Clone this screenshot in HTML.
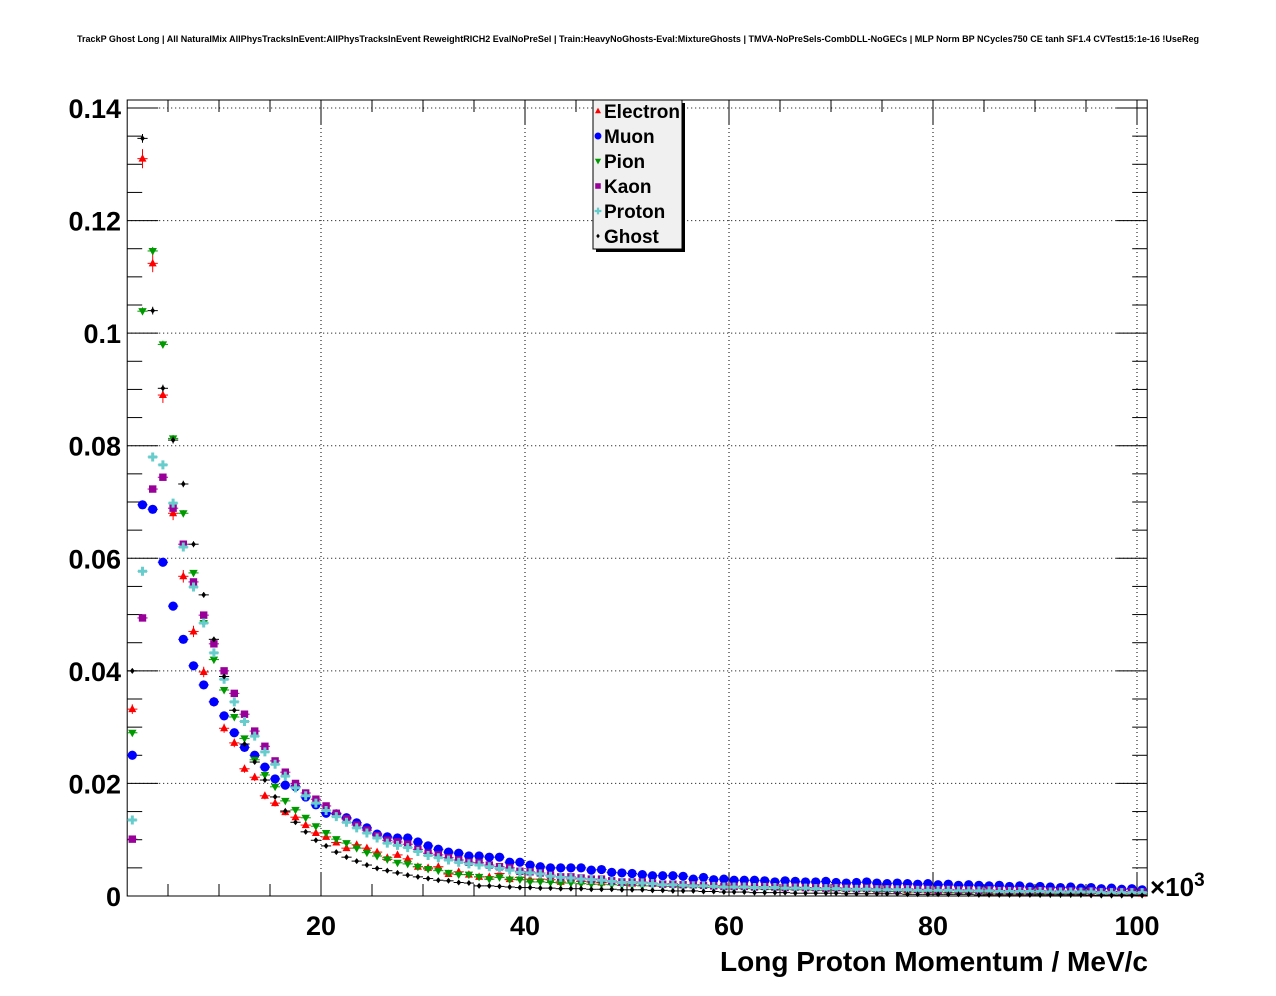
<!DOCTYPE html>
<html><head><meta charset="utf-8"><style>
html,body{margin:0;padding:0;background:#fff;}
svg{display:block;font-family:"Liberation Sans",Arial,sans-serif;}
</style></head><body>
<svg id="chart" width="1276" height="996" viewBox="0 0 1276 996">
<text x="638" y="42" text-anchor="middle" font-size="9" font-weight="bold" textLength="1122" lengthAdjust="spacingAndGlyphs">TrackP Ghost Long | All NaturalMix AllPhysTracksInEvent:AllPhysTracksInEvent ReweightRICH2 EvalNoPreSel | Train:HeavyNoGhosts-Eval:MixtureGhosts | TMVA-NoPreSels-CombDLL-NoGECs | MLP Norm BP NCycles750 CE tanh SF1.4 CVTest15:1e-16 !UseReg</text>
<g id="grid"></g>
<g id="axes"></g>
<g id="series"></g>
<g id="legend"></g>
</svg>
<script>
const xTicks = [20,40,60,80,100];
const yTicks = [0,0.02,0.04,0.06,0.08,0.1,0.12,0.14];
const yTickLabels = ["0","0.02","0.04","0.06","0.08","0.1","0.12","0.14"];
const seriesNames = ["Electron","Muon","Pion","Kaon","Proton","Ghost"];
const electron = [0.0332,0.131,0.1124,0.089,0.068,0.0568,0.047,0.0398,0.0345,0.0298,0.0272,0.0226,0.0211,0.0178,0.0165,0.0149,0.014,0.0126,0.0112,
0.0105,0.0095,0.0085,0.0091,0.0085,0.0078,0.0068,0.0073,0.0066,0.0052,0.005,0.0052,0.0039,0.0043,0.0038,0.0034,0.0034,0.004,0.003,0.0033,0.003,0.003,0.0029,0.0025,0.003,
0.0026,0.0025,0.0024,0.0025,0.0023,0.0022,0.0023,0.0022,0.0021,0.0022,0.0020,0.0019,0.0020,0.0018,0.0019,0.0017,0.0018,0.0016,0.0017,0.0015,0.0016,0.0015,0.0014,0.0015,0.0013,0.0014,0.0012,0.0013,0.0012,0.0011,0.0012,0.0011,0.0010,0.0011,0.0010,0.0009,0.0010,0.0009,0.0008,0.0009,0.0008,0.0008,0.0007,0.0008,0.0007,0.0007,0.0006,0.0007,0.0006,0.0006,0.0005,0.0006,0.0005,0.0005,0.0005,0.0004];
const muon = [0.025,0.0695,0.0687,0.0593,0.0515,0.0456,0.0409,0.0375,0.0345,0.032,0.029,0.0264,0.025,0.0229,0.0208,0.0197,0.0194,0.0176,0.0162,
0.0147,0.0146,0.0139,0.013,0.0121,0.011,0.0105,0.0103,0.0103,0.0096,0.0089,0.0083,0.0078,0.0076,0.0071,0.0071,0.0069,0.0069,0.006,0.006,0.0055,0.0052,0.005,0.005,0.005,0.005,0.0046,0.0047,0.0042,0.0041,0.004,0.0038,0.0036,0.0036,0.0036,0.0035,0.003,0.0033,0.0029,0.003,
0.0028,0.0028,0.0028,0.0027,0.0025,0.0027,0.0026,0.0025,0.0025,0.0026,0.0024,0.0023,0.0024,0.0025,0.0023,0.0022,0.0023,0.0022,0.0021,0.0022,0.0020,0.0021,0.0019,0.0020,0.0019,0.0018,0.0019,0.0017,0.0018,0.0016,0.0017,0.0016,0.0015,0.0016,0.0014,0.0015,0.0013,0.0014,0.0012,0.0013,0.0011];
const pion = [0.029,0.1039,0.1146,0.098,0.0813,0.068,0.0574,0.0485,0.042,0.0366,0.0318,0.028,0.0242,0.0215,0.0194,0.0169,0.0153,0.0139,0.0124,
0.0112,0.0101,0.0094,0.0085,0.0077,0.0071,0.0065,0.0059,0.0057,0.0052,0.0048,0.0045,0.0041,0.0038,0.0038,0.0034,0.003,0.0033,0.0029,0.0029,0.0025,0.0025,
0.0024,0.0023,0.0023,0.0022,0.0021,0.0021,0.0020,0.0019,0.0019,0.0018,0.0018,0.0017,0.0017,0.0016,0.0016,0.0015,0.0015,0.0014,0.0014,0.0013,0.0013,0.0012,0.0012,0.0012,0.0011,0.0011,0.0010,0.0010,0.0010,0.0009,0.0009,0.0009,0.0008,0.0008,0.0008,0.0007,0.0007,0.0007,0.0007,0.0006,0.0006,0.0006,0.0006,0.0005,0.0005,0.0005,0.0005,0.0005,0.0004,0.0004,0.0004,0.0004,0.0004,0.0004,0.0003,0.0003,0.0003,0.0003,0.0003];
const kaon = [0.0101,0.0494,0.0723,0.0744,0.0689,0.0625,0.0558,0.0499,0.0448,0.040,0.036,0.0323,0.0293,0.0266,0.024,0.022,0.020,0.0183,0.0172,
0.016,0.0147,0.0137,0.0126,0.0117,0.0107,0.0099,0.0096,0.0092,0.0083,0.0076,0.0073,0.0068,0.0064,0.006,0.0059,0.0055,0.0052,0.005,0.0044,0.0043,0.0041,0.0037,0.0034,0.0034,0.0032,0.003,0.003,0.0027,0.0025,0.0025,0.0025,0.0023,0.0021,0.0021,0.002,0.002,0.0019,0.0018,0.0017,
0.0017,0.0017,0.0016,0.0017,0.0016,0.0015,0.0016,0.0015,0.0015,0.0014,0.0015,0.0014,0.0013,0.0014,0.0013,0.0013,0.0012,0.0013,0.0012,0.0012,0.0011,0.0012,0.0011,0.0011,0.0010,0.0011,0.0010,0.0010,0.0010,0.0009,0.0010,0.0009,0.0009,0.0009,0.0008,0.0009,0.0008,0.0008,0.0008,0.0008,0.0007];
const proton = [0.0135,0.0577,0.078,0.0766,0.0698,0.062,0.0549,0.0485,0.0432,0.0385,0.0345,0.031,0.0284,0.0256,0.0234,0.0213,0.0192,0.0178,0.0165,
0.0152,0.0141,0.0131,0.0121,0.0112,0.0103,0.0094,0.0090,0.0086,0.0079,0.0072,0.0068,0.0064,0.0060,0.0057,0.0055,0.0052,0.0049,0.0046,0.0042,0.0041,0.0039,0.0035,0.0033,0.0032,0.0030,0.0029,0.0028,0.0026,0.0024,0.0024,0.0023,0.0022,0.0020,0.0020,0.0019,0.0018,0.0018,0.0017,0.0016,
0.0016,0.0016,0.0015,0.0015,0.0015,0.0014,0.0014,0.0014,0.0013,0.0013,0.0013,0.0012,0.0012,0.0012,0.0011,0.0011,0.0011,0.0011,0.0010,0.0010,0.0010,0.0010,0.0009,0.0009,0.0009,0.0009,0.0008,0.0008,0.0008,0.0008,0.0008,0.0007,0.0007,0.0007,0.0007,0.0007,0.0006,0.0006,0.0006,0.0006,0.0006];
const ghost = [0.040,0.1346,0.104,0.0902,0.081,0.0732,0.0625,0.0535,0.0456,0.039,0.033,0.027,0.0238,0.0206,0.0176,0.0151,0.0131,0.0114,0.0099,
0.0089,0.0078,0.0069,0.0062,0.0055,0.0049,0.0045,0.0041,0.0037,0.0034,0.0031,0.0028,0.0027,0.0024,0.0023,0.0018,0.0018,0.0017,0.0016,0.0015,0.0015,0.0014,
0.0014,0.0013,0.0013,0.0013,0.0012,0.0012,0.0012,0.0011,0.0011,0.0011,0.0010,0.0010,0.0009,0.0009,0.0009,0.0008,0.0008,0.0007,0.0007,0.0007,0.0006,0.0006,0.0006,0.0006,0.0005,0.0005,0.0005,0.0005,0.0005,0.0004,0.0004,0.0004,0.0004,0.0004,0.0004,0.0003,0.0003,0.0003,0.0003,0.0003,0.0003,0.0003,0.0002,0.0002,0.0002,0.0002,0.0002,0.0002,0.0002,0.0002,0.0002,0.0002,0.0002,0.0001,0.0001,0.0001,0.0001,0.0001,0.0001];

const NS="http://www.w3.org/2000/svg";
const X0=127.2, X1=1147.2, XMIN=1, XMAX=101, Y0=896, Y1=100, YMAX=0.14142;
function xs(v){return X0+(v-XMIN)/(XMAX-XMIN)*(X1-X0);}
function ys(v){return Y0-v/YMAX*(Y0-Y1);}
function mk(tag,attrs,parent){const e=document.createElementNS(NS,tag);for(const k in attrs)e.setAttribute(k,attrs[k]);parent.appendChild(e);return e;}

const grid=document.getElementById('grid'), axes=document.getElementById('axes'), ser=document.getElementById('series'), leg=document.getElementById('legend');
xTicks.forEach(t=>{const l=mk('line',{x1:xs(t),x2:xs(t),y1:Y1,y2:Y0,stroke:'#000','stroke-width':1,'stroke-dasharray':'1,3'},grid);

});
yTicks.forEach(t=>{if(t===0)return;const l=mk('line',{x1:X0,x2:X1,y1:ys(t),y2:ys(t),stroke:'#000','stroke-width':1,'stroke-dasharray':'1,3'},grid);

});
const fr=mk('rect',{x:X0,y:Y1,width:X1-X0,height:Y0-Y1,fill:'none',stroke:'#000','stroke-width':1},axes);


for(let k=0;k<=28;k++){const v=k*0.005;const y=ys(v);const major=(k%4===0);const len=major?31:15;
mk('line',{x1:X0,x2:X0+len,y1:y,y2:y,stroke:'#000','stroke-width':1},axes);
mk('line',{x1:X1,x2:X1-len,y1:y,y2:y,stroke:'#000','stroke-width':1},axes);}
for(let v=5;v<=100;v+=5){const x=xs(v);const major=(v%20===0);const len=major?24:12;
mk('line',{x1:x,x2:x,y1:Y0,y2:Y0-len,stroke:'#000','stroke-width':1},axes);
mk('line',{x1:x,x2:x,y1:Y1,y2:Y1+len,stroke:'#000','stroke-width':1},axes);}
yTicks.forEach((t,i)=>{const tx=mk('text',{x:121,y:ys(t)+10,'text-anchor':'end','font-size':27,'font-weight':'bold'},axes);tx.textContent=yTickLabels[i];

});
xTicks.forEach(t=>{const tx=mk('text',{x:xs(t),y:935,'text-anchor':'middle','font-size':27,'font-weight':'bold'},axes);tx.textContent=String(t);

});
const xl=mk('text',{x:1148,y:971,'text-anchor':'end','font-size':28,'font-weight':'bold','textLength':428,'lengthAdjust':'spacingAndGlyphs'},axes);xl.textContent='Long Proton Momentum / MeV/c';


const ex=mk('text',{x:1150,y:896,'font-size':26,'font-weight':'bold'},axes);ex.innerHTML='×10<tspan dy="-10" font-size="19">3</tspan>';



const colors=['#ff0000','#0000ff','#009900','#990099','#66cccc','#000000'];
const data=[electron,muon,pion,kaon,proton,ghost];
function marker(kind,x,y,c,g,s){
 s=s||1;
 if(kind===0) return mk('polygon',{points:`${x},${y-4.5*s} ${x-4*s},${y+3*s} ${x+4*s},${y+3*s}`,fill:c},g);
 if(kind===1) return mk('circle',{cx:x,cy:y,r:4.6*s,fill:c},g);
 if(kind===2) return mk('polygon',{points:`${x-4.2*s},${y-3*s} ${x+4.2*s},${y-3*s} ${x},${y+4.5*s}`,fill:c},g);
 if(kind===3) return mk('rect',{x:x-3.7*s,y:y-3.7*s,width:7.4*s,height:7.4*s,fill:c},g);
 if(kind===4) return mk('path',{d:`M${x-4.5*s},${y}H${x+4.5*s}M${x},${y-4.5*s}V${y+4.5*s}`,stroke:c,'stroke-width':3*s},g);
 return mk('polygon',{points:`${x},${y-3*s} ${x+2.4*s},${y} ${x},${y+3*s} ${x-2.4*s},${y}`,fill:c},g);
}
data.forEach((arr,si)=>{
 const g=mk('g',{},ser);
 
 
 arr.forEach((v,i)=>{
  const xc=xs(XMIN+i+0.5), y=ys(v);
  const eh=Math.max(1.5, Math.sqrt(v)*12*(si===0?2.2:1));
  mk('line',{x1:xs(XMIN+i),x2:xs(XMIN+i+1),y1:y,y2:y,stroke:colors[si],'stroke-width':1},g);
  mk('line',{x1:xc,x2:xc,y1:y-eh,y2:y+eh,stroke:colors[si],'stroke-width':1},g);
  const m=marker(si,xc,y,colors[si],g);
  
  
 });
});
mk('rect',{x:596,y:103,width:89,height:149,fill:'#000'},leg);
const lb=mk('rect',{x:593,y:100,width:89,height:149,fill:'#f0f0f0',stroke:'#000','stroke-width':1},leg);


seriesNames.forEach((n,i)=>{
 const y=111+25*i;
 const eg=mk('g',{},leg);
 
 
 marker(i,598,y,colors[i],eg,0.75);
 const t=mk('text',{x:604,y:y+7,'font-size':19,'font-weight':'bold'},eg);t.textContent=n;
});
</script>
</body></html>
